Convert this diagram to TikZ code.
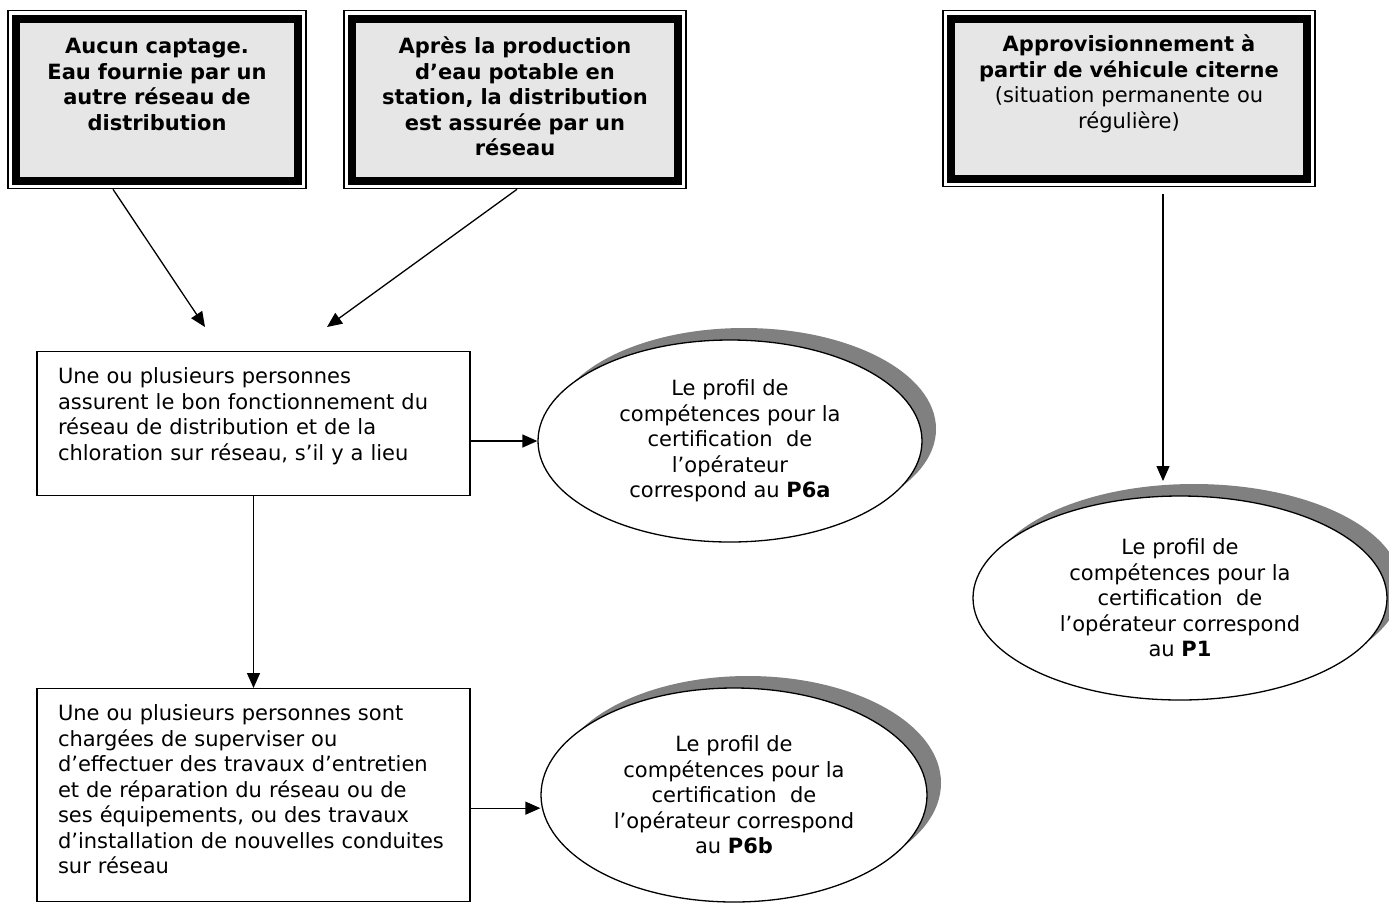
\documentclass[tikz,border=0pt]{standalone}
\usepackage{fontspec}
\setmainfont{DejaVu Sans}
\usetikzlibrary{shapes.geometric,arrows.meta,shadows}
\definecolor{fondgris}{HTML}{E6E6E6}
\definecolor{ombregris}{HTML}{808080}

\tikzset{
  cadre/.style={font=\fontsize{21}{25.5}\selectfont, draw, line width=1.3pt, fill=white,
    align=center, inner xsep=10pt, inner ysep=0pt, text height=43pt, text depth=135pt,
    path picture={\draw[line width=8pt, fill=fondgris]
      ([shift={(8pt,-8pt)}]path picture bounding box.north west) rectangle
      ([shift={(-8pt,8pt)}]path picture bounding box.south east);}},
  boite/.style={font=\fontsize{21}{25.5}\selectfont, draw, line width=1.3pt,
    align=left, inner xsep=21pt, inner ysep=0pt, text height=32pt},
  profil/.style={font=\fontsize{21}{25.5}\selectfont, ellipse, draw, line width=1.3pt,
    fill=white, align=center, inner sep=0pt,
    drop shadow={shadow xshift=14pt, shadow yshift=12pt, opacity=1, fill=ombregris}},
  fleche/.style={-{Triangle[length=15pt,width=13pt]}, line width=1.3pt},
}

\begin{document}
\begin{tikzpicture}[x=1pt,y=-1pt]
\useasboundingbox (0,0) rectangle (1389,903);

% en-tetes
\node[cadre, text width=278pt, anchor=north] (aucun) at (157,10)
  {\bfseries Aucun captage.\\ Eau fournie par un\\ autre réseau de\\ distribution};
\node[cadre, text width=322pt, anchor=north] (apres) at (515,10)
  {\bfseries Après la production\\ d’eau potable en\\ station, la distribution\\ est assurée par un\\ réseau};
\node[cadre, text width=352pt, anchor=north, text height=41pt] (appro) at (1129,10)
  {\textbf{Approvisionnement à}\\ \textbf{partir de véhicule citerne}\\ (situation permanente ou\\ régulière)};

% responsabilites
\node[boite, text width=391pt, text depth=112pt, anchor=north] (reseau) at (253.5,351)
  {Une ou plusieurs personnes\\ assurent le bon fonctionnement du\\ réseau de distribution et de la\\ chloration sur réseau, s’il y a lieu};
\node[boite, text width=391pt, text depth=181pt, anchor=north] (travaux) at (253.5,688)
  {Une ou plusieurs personnes sont\\ chargées de superviser ou\\ d’effectuer des travaux d’entretien\\ et de réparation du réseau ou de\\ ses équipements, ou des travaux\\ d’installation de nouvelles conduites\\ sur réseau};

% profils
\node[profil, minimum width=384pt, minimum height=202pt] (p6a) at (730,441)
  {Le profil de\\ compétences pour la\\ certification~ de\\ l’opérateur\\ correspond au \textbf{P6a}};
\node[profil, minimum width=386pt, minimum height=214pt] (p6b) at (734,795)
  {Le profil de\\ compétences pour la\\ certification~ de\\ l’opérateur correspond\\ au \textbf{P6b}};
\node[profil, minimum width=414pt, minimum height=204pt] (p1) at (1180,598)
  {Le profil de\\ compétences pour la\\ certification~ de\\ l’opérateur correspond\\ au \textbf{P1}};

\coordinate (pointeA) at (205,327);
\coordinate (pointeB) at (327,327);
\coordinate (pointeC) at (1163,481);

\draw[fleche] ([xshift=-44pt]aucun.south) -- (pointeA);
\draw[fleche] ([xshift=2pt]apres.south) -- (pointeB);
\draw[fleche] (reseau.east |- p6a.west) -- (p6a.west);
\draw[fleche] (reseau) -- (travaux);
\draw[fleche] ([yshift=-13pt]travaux.east) -- ([yshift=-13pt]travaux.east -| p6b.west);
\draw[fleche] ([xshift=34pt,yshift=-7pt]appro.south) -- (pointeC);
\end{tikzpicture}
\end{document}
